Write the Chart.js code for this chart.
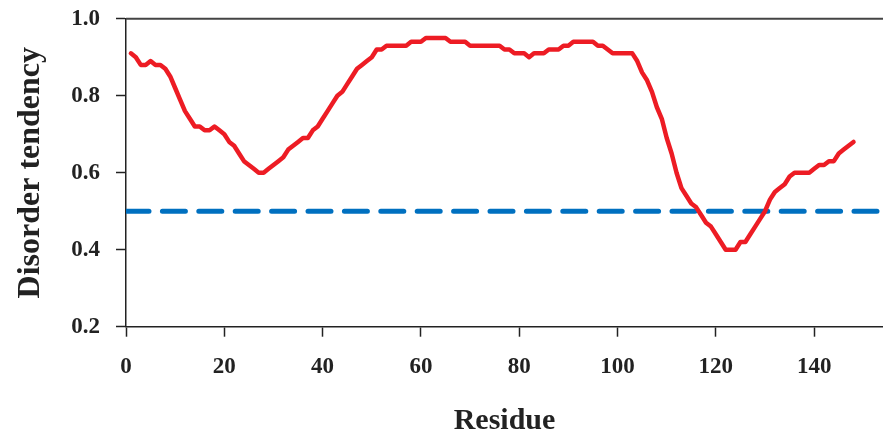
<!DOCTYPE html>
<html lang="en">
<head>
<meta charset="UTF-8">
<title>Disorder tendency</title>
<script src="https://cdn.jsdelivr.net/npm/chart.js"></script>
<style>
  html, body { margin: 0; padding: 0; background: #fff; }
</style>
</head>
<body>
<canvas id="disorderChart" width="883" height="434"></canvas>
<script>
    // disorder score per residue, residues 1..148
    var disorder = [
        0.91, 0.90, 0.88, 0.88, 0.89, 0.88, 0.88, 0.87, 0.85, 0.82,
        0.79, 0.76, 0.74, 0.72, 0.72, 0.71, 0.71, 0.72, 0.71, 0.70,
        0.68, 0.67, 0.65, 0.63, 0.62, 0.61, 0.60, 0.60, 0.61, 0.62,
        0.63, 0.64, 0.66, 0.67, 0.68, 0.69, 0.69, 0.71, 0.72, 0.74,
        0.76, 0.78, 0.80, 0.81, 0.83, 0.85, 0.87, 0.88, 0.89, 0.90,
        0.92, 0.92, 0.93, 0.93, 0.93, 0.93, 0.93, 0.94, 0.94, 0.94,
        0.95, 0.95, 0.95, 0.95, 0.95, 0.94, 0.94, 0.94, 0.94, 0.93,
        0.93, 0.93, 0.93, 0.93, 0.93, 0.93, 0.92, 0.92, 0.91, 0.91,
        0.91, 0.90, 0.91, 0.91, 0.91, 0.92, 0.92, 0.92, 0.93, 0.93,
        0.94, 0.94, 0.94, 0.94, 0.94, 0.93, 0.93, 0.92, 0.91, 0.91,
        0.91, 0.91, 0.91, 0.89, 0.86, 0.84, 0.81, 0.77, 0.74, 0.69,
        0.65, 0.60, 0.56, 0.54, 0.52, 0.51, 0.49, 0.47, 0.46, 0.44,
        0.42, 0.40, 0.40, 0.40, 0.42, 0.42, 0.44, 0.46, 0.48, 0.50,
        0.53, 0.55, 0.56, 0.57, 0.59, 0.60, 0.60, 0.60, 0.60, 0.61,
        0.62, 0.62, 0.63, 0.63, 0.65, 0.66, 0.67, 0.68
    ];
    var residues = disorder.map((v, i) => i + 1);

    // cut-off line between order and disorder
    var cutoff = 0.5;
    var cutoffX = [0, 154];

    var xTicks = [0, 20, 40, 60, 80, 100, 120, 140];
    var yTicks = [0.2, 0.4, 0.6, 0.8, 1.0];

    var serif = "'Liberation Serif', 'Times New Roman', serif";
    var ink = '#222';

    // closing line along the top of the plot
    var topLine = {
        id: 'topLine',
        afterDraw(chart) {
            var a = chart.chartArea, ctx = chart.ctx;
            ctx.save();
            ctx.strokeStyle = '#444';
            ctx.lineWidth = 2;
            ctx.beginPath();
            ctx.moveTo(a.left, a.top);
            ctx.lineTo(a.right, a.top);
            ctx.stroke();
            ctx.restore();
        }
    };

    new Chart(document.getElementById('disorderChart'), {
        type: 'line',
        data: {
            datasets: [{
                data: residues.map((r, i) => ({ x: r, y: disorder[i] })),
                borderColor: '#ED1C24',
                borderWidth: 4.5,
                borderJoinStyle: 'round',
                borderCapStyle: 'round',
                pointRadius: 0,
                tension: 0
            }, {
                data: cutoffX.map(x => ({ x: x, y: cutoff })),
                borderColor: '#0070C0',
                borderWidth: 5,
                borderDash: [23, 13.4],
                borderCapStyle: 'round',
                pointRadius: 0
            }]
        },
        plugins: [topLine],
        options: {
            responsive: false,
            animation: false,
            layout: { padding: { top: 18.7, right: 0, left: 0, bottom: 0 } },
            plugins: { legend: { display: false }, tooltip: { enabled: false } },
            scales: {
                x: {
                    type: 'linear',
                    min: 0,
                    max: 154,
                    afterBuildTicks: s => { s.ticks = xTicks.map(v => ({ value: v })); },
                    ticks: {
                        color: ink,
                        font: { family: serif, size: 23, weight: 'bold' },
                        padding: 17,
                        maxRotation: 0,
                        autoSkip: false
                    },
                    grid: { drawOnChartArea: false, tickLength: 10, tickColor: ink, tickWidth: 1.5 },
                    border: { color: ink, width: 1.5 },
                    title: {
                        display: true,
                        text: 'Residue',
                        color: ink,
                        font: { family: serif, size: 30, weight: 'bold', lineHeight: 0.87 },
                        padding: 0
                    },
                    afterFit: s => { s.height = 107.3; s.paddingLeft = 0; s.paddingRight = 0; }
                },
                y: {
                    min: 0.2,
                    max: 1.0,
                    afterBuildTicks: s => { s.ticks = yTicks.map(v => ({ value: v })); },
                    ticks: {
                        color: ink,
                        font: { family: serif, size: 23, weight: 'bold' },
                        padding: 16,
                        callback: v => v.toFixed(1)
                    },
                    grid: { drawOnChartArea: false, tickLength: 10, tickColor: ink, tickWidth: 1.5 },
                    border: { color: ink, width: 1.5 },
                    title: {
                        display: true,
                        text: 'Disorder tendency',
                        color: ink,
                        font: { family: serif, size: 32, weight: 'bold', lineHeight: 1.2 },
                        padding: { top: 12, bottom: 0 }
                    },
                    afterFit: s => { s.width = 126; s.paddingTop = 0; s.paddingBottom = 0; }
                }
            }
        }
    });
</script>
</body>
</html>
